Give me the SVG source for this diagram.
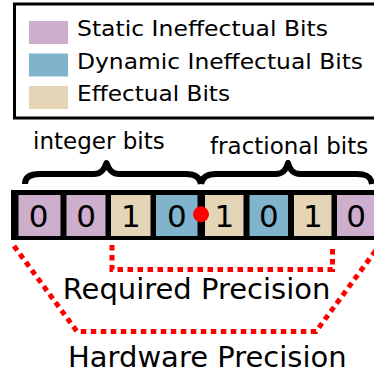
<svg xmlns="http://www.w3.org/2000/svg" width="374" height="375" viewBox="0 0 374 375">
  <style>
    text { font-family: "DejaVu Sans", "Liberation Sans", sans-serif; fill: #000; }
    .legend-text { font-size: 21.5px; }
    .label { font-size: 23px; }
    .big { font-size: 29px; }
    .digit { font-size: 31px; text-anchor: middle; }
    .static { fill: #cdaecd; }
    .dynamic { fill: #80b3cc; }
    .effectual { fill: #e3d5b5; }
    .brace { fill: none; stroke: #000; stroke-width: 6; stroke-linejoin: round; }
    .dotted { fill: none; stroke: #ff0000; stroke-width: 5; stroke-dasharray: 5.5 4.5; }
  </style>

  <!-- Legend -->
  <g id="legend">
    <rect x="14.5" y="4" width="372" height="114" fill="#fff" stroke="#000" stroke-width="3"/>
    <rect class="static" x="29" y="21" width="39" height="23"/>
    <text class="legend-text" x="77" y="36" textLength="251" lengthAdjust="spacingAndGlyphs">Static Ineffectual Bits</text>
    <rect class="dynamic" x="29" y="53.5" width="39" height="23"/>
    <text class="legend-text" x="77" y="68.5" textLength="286" lengthAdjust="spacingAndGlyphs">Dynamic Ineffectual Bits</text>
    <rect class="effectual" x="29" y="86" width="39" height="23"/>
    <text class="legend-text" x="77" y="101" textLength="153" lengthAdjust="spacingAndGlyphs">Effectual Bits</text>
  </g>

  <!-- Field labels and braces -->
  <g id="integer-bits">
    <text class="label" x="33" y="149.3">integer bits</text>
    <path class="brace" d="M25,184 C25,177 30,174 40,174 L94,174 C101,174 104,170 106.5,163 C109,170 112,174 119,174 L186,174 C196,174 200,178 201,184"/>
  </g>
  <g id="fractional-bits">
    <text class="label" x="210" y="154.3">fractional bits</text>
    <path class="brace" d="M201,184 C202,178 206,174 216,174 L276,174 C283,174 286,170 288,163 C290,170 293,174 300,174 L357,174 C367,174 371,177 372,184"/>
  </g>

  <!-- Bit register -->
  <g id="register">
    <rect x="11" y="190" width="370" height="50" fill="#000"/>
    <rect class="static" x="18.5" y="195" width="42" height="41"/>
    <rect class="static" x="66.5" y="195" width="39" height="41"/>
    <rect class="effectual" x="111" y="195" width="39.5" height="41"/>
    <rect class="dynamic" x="156" y="195" width="41.5" height="41"/>
    <rect class="effectual" x="205" y="195" width="38.5" height="41"/>
    <rect class="dynamic" x="249.5" y="195" width="38.5" height="41"/>
    <rect class="effectual" x="294" y="195" width="37.5" height="41"/>
    <rect class="static" x="337" y="195" width="40" height="41"/>
    <text class="digit" x="38.5" y="226.5">0</text>
    <text class="digit" x="86" y="226.5">0</text>
    <text class="digit" x="130.75" y="226.5">1</text>
    <text class="digit" x="176.75" y="226.5">0</text>
    <text class="digit" x="224.25" y="226.5">1</text>
    <text class="digit" x="268.75" y="226.5">0</text>
    <text class="digit" x="312.75" y="226.5">1</text>
    <text class="digit" x="356" y="226.5">0</text>
  </g>
  <g id="binary-point">
    <circle cx="201" cy="214.3" r="8" fill="#ff0000"/>
  </g>

  <!-- Precision brackets -->
  <g id="connectors">
    <polyline class="dotted" points="112,245 112,269.5 332.5,269.5 332.5,245"/>
    <polyline class="dotted" points="14,246 77,331.5 316,331.5 379,246"/>
  </g>
  <g id="required-precision">
    <text class="big" x="62.7" y="299.3">Required Precision</text>
  </g>
  <g id="hardware-precision">
    <text class="big" x="68" y="367">Hardware Precision</text>
  </g>
</svg>
